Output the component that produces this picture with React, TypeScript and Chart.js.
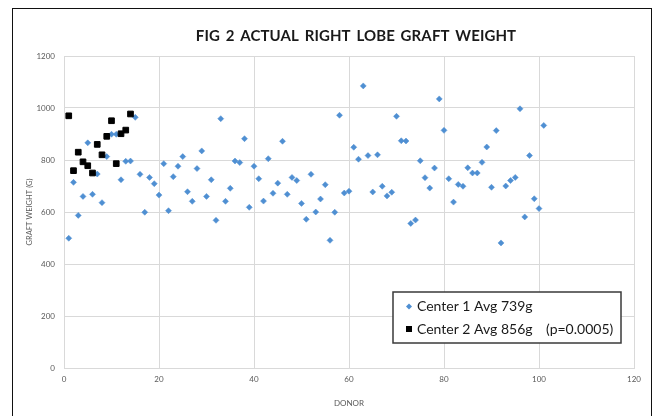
import React, { useEffect, useRef } from 'react';
import { Chart, registerables } from 'chart.js';

Chart.register(...registerables);

const TITLE = 'FIG 2 ACTUAL RIGHT LOBE GRAFT WEIGHT';
const X_TITLE = 'DONOR';
const Y_TITLE = 'GRAFT WEIGHT (G)';
const SERIES_NAMES = ['Center 1 Avg 739g', 'Center 2 Avg 856g'];
const P_VALUE_NOTE = '(p=0.0005)';

const X_MIN = 0;
const X_MAX = 120;
const X_STEP = 20;
const Y_MIN = 0;
const Y_MAX = 1200;
const Y_STEP = 200;

// Graft weight (g) by donor number, donor 1..n
const center1Weights = [
  499, 714, 587, 660, 866, 668, 746, 636, 813, 899,
  899, 724, 795, 796, 964, 745, 599, 733, 709, 665,
  786, 605, 736, 776, 813, 678, 641, 767, 835, 660,
  724, 568, 959, 641, 691, 796, 790, 882, 618, 776,
  728, 642, 805, 672, 711, 872, 668, 733, 721, 633,
  572, 745, 600, 650, 705, 491, 599, 972, 673, 680,
  849, 803, 1085, 817, 677, 820, 699, 662, 676, 968,
  874, 873, 556, 569, 797, 732, 692, 769, 1035, 914,
  728, 638, 706, 699, 770, 750, 750, 791, 850, 695,
  913, 481, 700, 721, 733, 997, 581, 817, 651, 613,
  933,
];

const center2Weights = [970, 759, 830, 793, 778, 750, 860, 820, 891, 951, 786, 901, 915, 977];

const COLOR_C1 = '#4f8fd2';
const COLOR_C2 = '#000000';
const GRID_COLOR = '#d9d9d9';
const TICK_COLOR = '#595959';
const FONT = 'Lato, "Open Sans", sans-serif';

const toPoints = (arr: number[]) => arr.map((v, i) => ({ x: i + 1, y: v }));

const chartTitle = {
  id: 'chartTitle',
  afterDraw(chart: any) {
    const { ctx, chartArea } = chart;
    ctx.save();
    ctx.font = `bold 15px ${FONT}`;
    ctx.fillStyle = '#1a1a1a';
    ctx.textAlign = 'center';
    ctx.textBaseline = 'middle';
    try {
      ctx.letterSpacing = '0.1px';
      ctx.wordSpacing = '2px';
    } catch (e) {}
    ctx.fillText(TITLE, (chartArea.left + chartArea.right) / 2 + 7, chartArea.top - 20);
    ctx.restore();
  },
};

const insideLegend = {
  id: 'insideLegend',
  afterDatasetsDraw(chart: any) {
    const { ctx, chartArea } = chart;
    const w = 228;
    const h = 51;
    const x = chartArea.right - 13 - w;
    const y = chartArea.bottom - 25 - h;
    ctx.save();
    ctx.fillStyle = '#ffffff';
    ctx.fillRect(x, y, w, h);
    ctx.strokeStyle = '#3a3a3a';
    ctx.lineWidth = 1.5;
    ctx.strokeRect(x, y, w, h);
    ctx.font = `14px ${FONT}`;
    ctx.textBaseline = 'middle';
    ctx.textAlign = 'left';
    SERIES_NAMES.forEach((name, i) => {
      const cy = y + 14.5 + i * 22.5;
      const mx = x + 16;
      if (i === 0) {
        ctx.fillStyle = COLOR_C1;
        ctx.beginPath();
        ctx.moveTo(mx, cy - 3);
        ctx.lineTo(mx + 3, cy);
        ctx.lineTo(mx, cy + 3);
        ctx.lineTo(mx - 3, cy);
        ctx.closePath();
        ctx.fill();
      } else {
        ctx.fillStyle = COLOR_C2;
        ctx.fillRect(mx - 3, cy - 3, 6, 6);
      }
      ctx.fillStyle = '#1a1a1a';
      ctx.fillText(name, x + 24, cy);
      if (i === 1) ctx.fillText(P_VALUE_NOTE, x + 153, cy);
    });
    ctx.restore();
  },
};

export default function App() {
  const canvasRef = useRef<HTMLCanvasElement | null>(null);

  useEffect(() => {
    if (!canvasRef.current) return;
    const chart = new Chart(canvasRef.current, {
      type: 'scatter',
      data: {
        datasets: [
          {
            label: SERIES_NAMES[0],
            data: toPoints(center1Weights),
            pointStyle: 'rectRot',
            pointRadius: 3,
            pointBorderWidth: 0.5,
            backgroundColor: COLOR_C1,
            borderColor: COLOR_C1,
            order: 1,
          },
          {
            label: SERIES_NAMES[1],
            data: toPoints(center2Weights),
            pointStyle: 'rect',
            pointRadius: 4,
            pointBorderWidth: 1,
            backgroundColor: COLOR_C2,
            borderColor: COLOR_C2,
            order: 0,
          },
        ],
      },
      plugins: [insideLegend, chartTitle],
      options: {
        responsive: false,
        animation: false,
        layout: { padding: { left: 20, right: 21, top: 56, bottom: 4 } },
        plugins: {
          legend: { display: false },
          tooltip: { enabled: false },
          title: { display: false },
        },
        scales: {
          x: {
            type: 'linear',
            min: X_MIN,
            max: X_MAX,
            afterFit: (s: any) => { s.height = 44; },
            ticks: {
              stepSize: X_STEP,
              color: TICK_COLOR,
              font: { family: FONT, size: 8 },
              padding: 7,
              callback: (v: any) => String(v),
            },
            grid: { color: GRID_COLOR, drawTicks: false },
            border: { color: GRID_COLOR },
            title: {
              display: true,
              text: X_TITLE,
              color: TICK_COLOR,
              font: { family: FONT, size: 8 },
              padding: { top: 0, bottom: 4 },
            },
          },
          y: {
            type: 'linear',
            min: Y_MIN,
            max: Y_MAX,
            afterFit: (s: any) => { s.width = 44; },
            ticks: {
              stepSize: Y_STEP,
              color: TICK_COLOR,
              font: { family: FONT, size: 8 },
              padding: 9,
              callback: (v: any) => String(v),
            },
            grid: { color: GRID_COLOR, drawTicks: false },
            border: { color: GRID_COLOR },
            title: {
              display: true,
              text: Y_TITLE,
              color: TICK_COLOR,
              font: { family: FONT, size: 7.5 },
              padding: { top: 5, bottom: 0 },
            },
          },
        },
      },
    });
    return () => chart.destroy();
  }, []);

  return (
    <div style={{ position: 'absolute', left: 0, top: 0, width: 655, height: 416, background: '#fff', overflow: 'hidden' }}>
      <div style={{ position: 'absolute', left: 12, top: 8, width: 640, height: 430, border: '1.5px solid #111', boxSizing: 'border-box' }} />
      <canvas ref={canvasRef} width={655} height={416} style={{ position: 'absolute', left: 0, top: 0, width: 655, height: 416 }} />
    </div>
  );
}
